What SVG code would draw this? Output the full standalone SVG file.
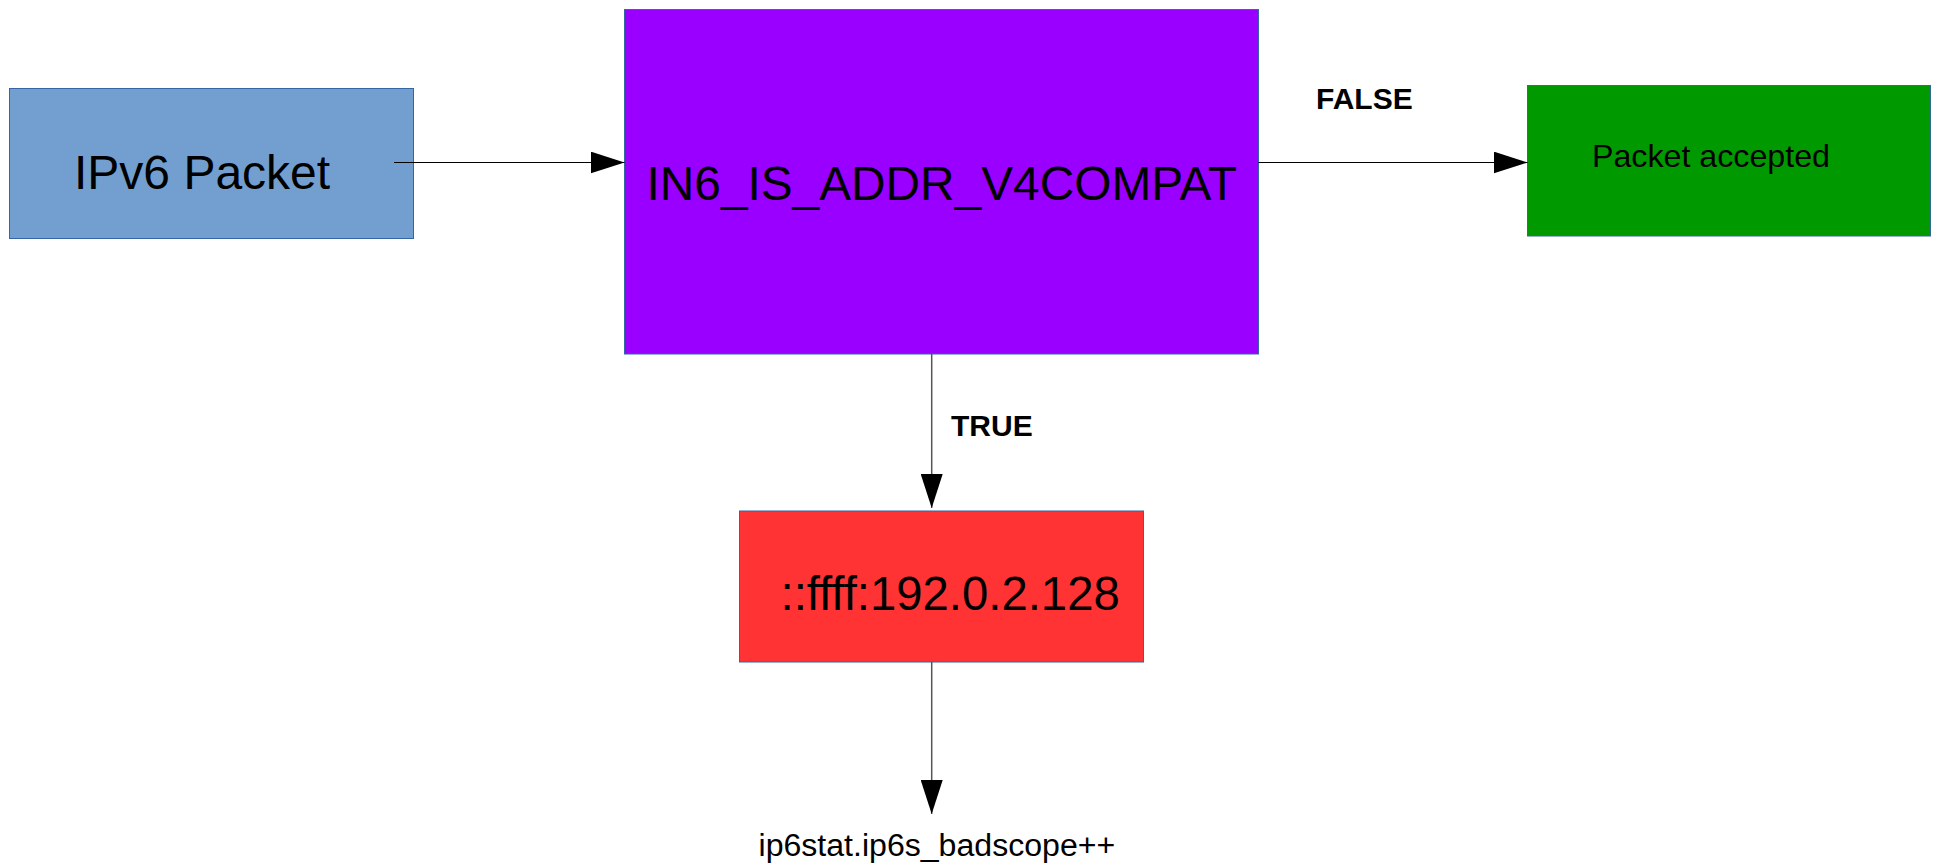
<svg xmlns="http://www.w3.org/2000/svg" width="1939" height="866" viewBox="0 0 1939 866">
<style>
.box{stroke:#3465a4;stroke-width:1}
.lbl{font-family:"Liberation Sans",Arial,sans-serif;fill:#000}
.edge{stroke:#000;stroke-width:1;fill:none}
.vedge{stroke:#555;stroke-width:1.5;fill:none}
.bold{font-weight:bold;font-size:30px}
</style>
<defs>
<marker id="arr" markerUnits="userSpaceOnUse" markerWidth="34" markerHeight="22" refX="34" refY="11" orient="auto" viewBox="0 0 34 22">
<path d="M0,0 L34,11 L0,22 z" fill="#000"/>
</marker>
</defs>
<rect width="1939" height="866" fill="#fff"/>
<g id="ipv6-packet">
<rect class="box" x="9.5" y="88.5" width="404" height="150" fill="#729fcf"/>
<text class="lbl" x="74" y="188.5" font-size="48">IPv6 Packet</text>
</g>
<g id="in6-is-addr-v4compat">
<rect class="box" x="624.5" y="9.5" width="634" height="344.5" fill="#9900ff"/>
<text class="lbl" x="646.5" y="199.5" font-size="47.8">IN6_IS_ADDR_V4COMPAT</text>
</g>
<g id="packet-accepted">
<rect class="box" x="1527.5" y="85.5" width="403" height="150.5" fill="#009900"/>
<text class="lbl" x="1592" y="166.5" font-size="32.2">Packet accepted</text>
</g>
<g id="mapped-address">
<rect class="box" x="739.5" y="511" width="404" height="151" fill="#ff3333"/>
<text class="lbl" x="780.5" y="609.5" font-size="47.3">::ffff:192.0.2.128</text>
</g>
<g id="badscope">
<text class="lbl" x="758.5" y="856" font-size="32.1">ip6stat.ip6s_badscope++</text>
</g>
<g id="connectors">
<line class="edge" x1="394" y1="162.5" x2="624.5" y2="162.5" marker-end="url(#arr)"/>
<line class="edge" x1="1258.5" y1="162.5" x2="1527.5" y2="162.5" marker-end="url(#arr)"/>
<line class="vedge" x1="931.7" y1="354" x2="931.7" y2="508" marker-end="url(#arr)"/>
<line class="vedge" x1="931.7" y1="662" x2="931.7" y2="814" marker-end="url(#arr)"/>
<text class="lbl bold" x="1316" y="108.5">FALSE</text>
<text class="lbl bold" x="951" y="435.5">TRUE</text>
</g>
</svg>
